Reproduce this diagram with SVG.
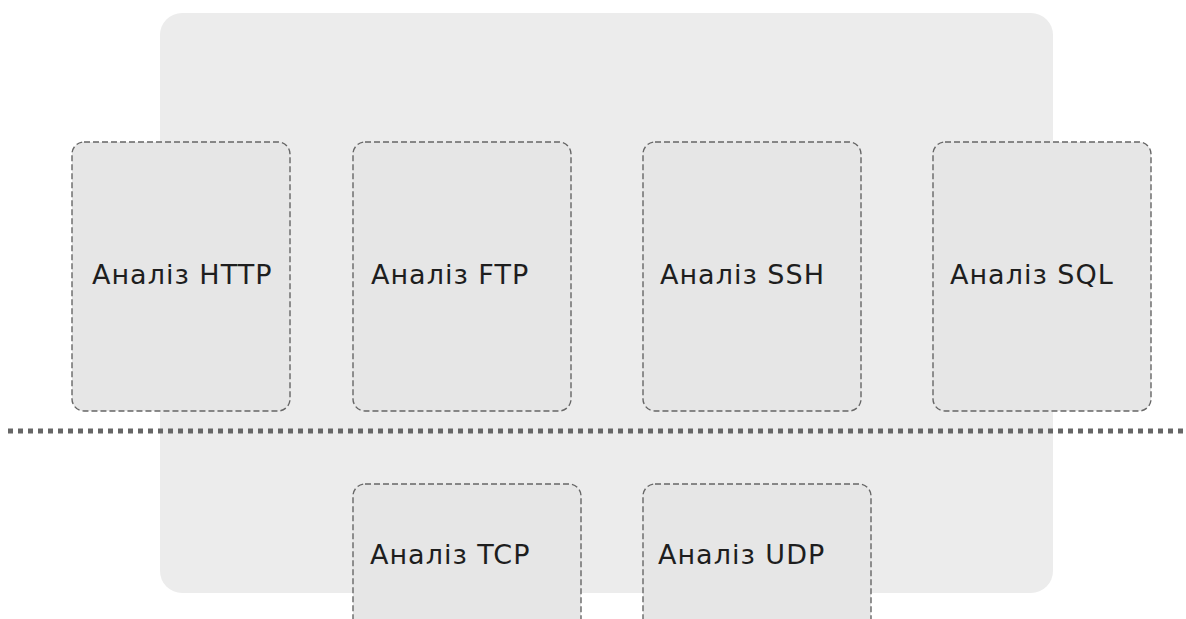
<svg xmlns="http://www.w3.org/2000/svg" width="1186" height="619" viewBox="0 0 1186 619">
  <style>
    .panel { fill: #ececec; }
    .box { fill: #e6e6e6; stroke: #666666; stroke-width: 1.4; stroke-dasharray: 6 3; }
    .label { font-family: "DejaVu Sans", "Liberation Sans", sans-serif; font-size: 27px; letter-spacing: 1px; fill: #1e1e1e; }
    .divider { stroke: #666666; stroke-width: 5; stroke-dasharray: 5 5; fill: none; }
  </style>

  <!-- background panel -->
  <rect class="panel" x="160" y="13" width="893" height="580" rx="22" ry="22"/>

  <!-- upper layer: application protocol analysers -->
  <g id="node-http">
    <rect class="box" x="72" y="142" width="218" height="269" rx="12" ry="12"/>
    <text class="label" x="92" y="284">Аналіз HTTP</text>
  </g>
  <g id="node-ftp">
    <rect class="box" x="353" y="142" width="218" height="269" rx="12" ry="12"/>
    <text class="label" x="371" y="284">Аналіз FTP</text>
  </g>
  <g id="node-ssh">
    <rect class="box" x="643" y="142" width="218" height="269" rx="12" ry="12"/>
    <text class="label" x="660" y="284">Аналіз SSH</text>
  </g>
  <g id="node-sql">
    <rect class="box" x="933" y="142" width="218" height="269" rx="12" ry="12"/>
    <text class="label" x="950" y="284">Аналіз SQL</text>
  </g>

  <!-- layer separator -->
  <g id="connectors">
    <line class="divider" x1="8" y1="431" x2="1186" y2="431"/>
  </g>

  <!-- lower layer: transport protocol analysers -->
  <g id="node-tcp">
    <rect class="box" x="353" y="484" width="228" height="160" rx="12" ry="12"/>
    <text class="label" x="370" y="564">Аналіз TCP</text>
  </g>
  <g id="node-udp">
    <rect class="box" x="643" y="484" width="228" height="160" rx="12" ry="12"/>
    <text class="label" x="658" y="564">Аналіз UDP</text>
  </g>
</svg>
